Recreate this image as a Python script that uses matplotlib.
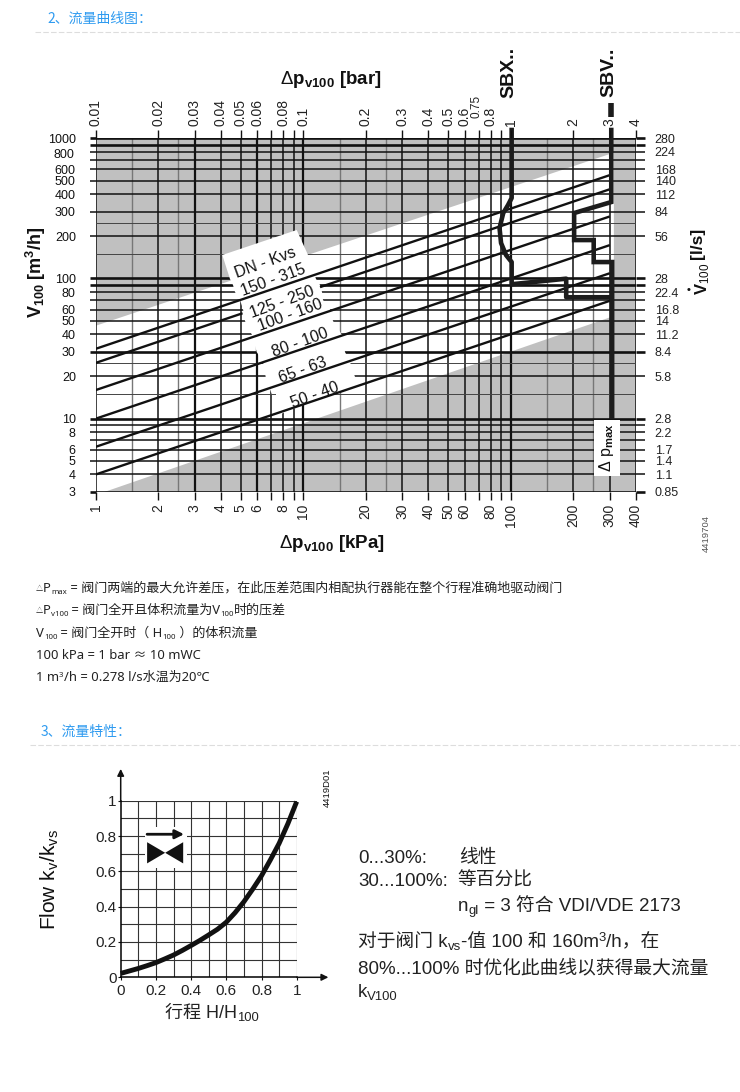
import matplotlib
matplotlib.use('Agg')
import matplotlib.pyplot as plt
import matplotlib.transforms as mtransforms
from matplotlib.patches import Polygon
from matplotlib.ticker import NullLocator, FixedLocator, FixedFormatter

W, H = 740, 1092
plt.rcParams['font.family'] = ['Liberation Sans', 'Noto Sans CJK SC']
plt.rcParams['mathtext.fontset'] = 'custom'
plt.rcParams['mathtext.rm'] = 'Liberation Sans'
plt.rcParams['mathtext.bf'] = 'Liberation Sans:bold'
plt.rcParams['mathtext.it'] = 'Liberation Sans:italic'

# ---- data: flow curve chart ----
kpa_lines = [1, 2, 3, 4, 5, 6, 7, 8, 9, 10, 20, 30, 40, 50, 60, 70, 80, 90, 100, 200, 300, 400]
kpa_lines_gray = [1.5, 2.5, 15, 25, 150, 250]
kpa_heavy = [3, 6, 10, 100]
kpa_labels = ['1', '2', '3', '4', '5', '6', '', '8', '', '10', '20', '30', '40', '50', '60', '',
              '80', '', '100', '200', '300', '400']
bar_ticks = kpa_lines
bar_labels = ['0.01', '0.02', '0.03', '0.04', '0.05', '0.06', '', '0.08', '', '0.1', '0.2', '0.3',
              '0.4', '0.5', '0.6', '', '0.8', '', '1', '2', '3', '4']
v_lines = [1000, 900, 800, 700, 600, 500, 400, 300, 200, 100, 90, 80, 70, 60, 50, 40, 30, 20,
           10, 9, 8, 7, 6, 5, 4, 3]
v_lines_thin = [250, 150, 25, 15]
v_heavy = [1000, 900, 100, 90, 30, 10, 3]
v_labels = ['1000', '', '', '', '600', '500', '400', '300', '200', '100', '', '80', '', '60',
            '50', '40', '30', '20', '10', '', '8', '', '6', '5', '4', '3']
ls_ticks = [1000, 800, 600, 500, 400, 300, 200, 100, 80, 60, 50, 40, 30, 20, 10, 8, 6, 5, 4, 3]
ls_labels = ['280', '224', '168', '140', '112', '84', '56', '28', '22.4', '16.8', '14', '11.2',
             '8.4', '5.8', '2.8', '2.2', '1.7', '1.4', '1.1', '0.85']
white_p = [1, 1, 314, 314, 1.1]
white_v = [3, 46, 790, 54, 3]
kvs_p = [[1, 300], [1, 5.1], [12.05, 300], [1, 300], [1, 300], [1, 300], [1, 300]]
kvs_v = [[31.5, 546], [25, 56.5], [86.8, 433], [16, 277], [10, 173], [6.3, 109], [4, 69.3]]
dn_labels = ['DN - Kvs', '150 - 315', '125 - 250', '100 - 160', '80 - 100', '65 - 63', '50 - 40']
sbx_p = [101, 101, 97, 92, 88.3, 89.8, 94.9, 101, 101, 185, 185, 305]
sbx_v = [1146, 375, 334, 293, 229, 179, 147, 131, 91, 99.7, 73.5, 73.5]
sbv_p = [305, 305, 202, 202, 251, 251, 308, 308]
sbv_v = [1146, 351, 293, 188, 188, 131, 131, 10.3]
sbv_dash_p = [305, 305]
sbv_dash_v = [1786, 1419]

# ---- data: flow characteristic chart ----
travel = [0, 0.05, 0.1, 0.15, 0.2, 0.25, 0.3, 0.35, 0.4, 0.45, 0.5, 0.55, 0.6, 0.65, 0.7, 0.75,
          0.8, 0.85, 0.9, 0.95, 1.0]
flow = [0.022, 0.036, 0.05, 0.066, 0.083, 0.104, 0.126, 0.152, 0.18, 0.209, 0.24, 0.272, 0.312,
        0.366, 0.428, 0.499, 0.575, 0.664, 0.758, 0.87, 0.995]
char_ticks = [0, 0.2, 0.4, 0.6, 0.8, 1]
char_labels = ['0', '0.2', '0.4', '0.6', '0.8', '1']
char_grid = [0.1, 0.2, 0.3, 0.4, 0.5, 0.6, 0.7, 0.8, 0.9, 1.0]

fig = plt.figure(figsize=(W / 100, H / 100), dpi=100, facecolor='white')
px = mtransforms.Affine2D().scale(1 / W, -1 / H).translate(0, 1) + fig.transFigure
BLACK = '#111111'


def ax_px(x0, y0, x1, y1):
    return fig.add_axes([x0 / W, 1 - y1 / H, (x1 - x0) / W, (y1 - y0) / H])


def T(x, y, s, **kw):
    kw.setdefault('color', BLACK)
    kw.setdefault('va', 'center')
    return fig.text(x, y, s, transform=px, **kw)


renderer = fig.canvas.get_renderer()


def advance(s, **kw):
    a = fig.text(0, 0, '|' + s + '|', **kw)
    b = fig.text(0, 0, '||', **kw)
    w = a.get_window_extent(renderer).width - b.get_window_extent(renderer).width
    a.remove()
    b.remove()
    return w


def rich(x, y, parts, size, color='#222222', family=None):
    fam = family or ['Noto Sans', 'Noto Sans CJK SC']
    for p in parts:
        s, k, dy = p if isinstance(p, tuple) else (p, 1.0, 0)
        T(x, y + dy, s, fontsize=size * k, color=color, family=fam, va='baseline')
        x += advance(s, fontsize=size * k, family=fam)


# page headers
BLUE = '#2f9bf0'
T(47, 19, '2、流量曲线图：', fontsize=10, color=BLUE, family=['Noto Sans CJK SC'])
T(41, 732, '3、流量特性：', fontsize=10, color=BLUE, family=['Noto Sans CJK SC'])
for xs, y in ((35, 32), (30, 745)):
    fig.add_artist(plt.Line2D([xs, W], [y, y], transform=px, color='#dddddd', lw=0.8, ls=(0, (5, 2))))

# ---- main chart ----
ax = ax_px(95.7, 138.3, 635.7, 492)
ax.set_xscale('log')
ax.set_yscale('log')
ax.set_xlim(1, 400)
ax.set_ylim(3, 1000)
ax.set_facecolor('#c0c0c0')
for s in ax.spines.values():
    s.set_visible(False)
ax.fill(white_p, white_v, color='white', lw=0, zorder=1)

for k in kpa_lines_gray:
    ax.axvline(k, color='#777777', lw=1.0, zorder=2)
for k in kpa_lines:
    ax.axvline(k, color=BLACK, lw=1.6 if k in kpa_heavy else 1.1, zorder=2)
for v in v_lines_thin:
    ax.axhline(v, color='#444444', lw=0.7, zorder=2)
for v in v_lines:
    ax.axhline(v, color=BLACK, lw=1.9 if v in v_heavy else 1.1, zorder=2)

# white label field that interrupts the grid
label_field = [(222.3, 255), (296.7, 230), (307.7, 254.3), (316, 279), (320, 285), (322, 292), (323, 300),
               (330, 309), (333, 321), (342, 335), (345, 352), (350, 362), (355, 377), (358, 386),
               (303, 405), (283, 413), (276, 417), (276, 394), (271.7, 394), (265.7, 377), (263, 362),
               (256.7, 352), (252, 335), (245, 321), (243, 309), (240, 300), (235, 292), (233, 285),
               (230, 279)]
ax.add_patch(Polygon(label_field, closed=True, transform=px, fc='white', ec='none', zorder=2.4, clip_on=False))

for ps, vs in zip(kvs_p, kvs_v):
    ax.plot(ps, vs, color=BLACK, lw=1.7, zorder=2.5, solid_capstyle='butt')

ax.xaxis.set_major_locator(FixedLocator(kpa_lines))
ax.xaxis.set_major_formatter(FixedFormatter(kpa_labels))
ax.xaxis.set_minor_locator(NullLocator())
ax.yaxis.set_major_locator(FixedLocator(v_lines))
ax.yaxis.set_major_formatter(FixedFormatter(v_labels))
ax.yaxis.set_minor_locator(NullLocator())
ax.tick_params(axis='x', direction='out', length=5.5, width=1.0, labelsize=10, pad=3, labelrotation=90, color=BLACK, labelcolor='#222222')
ax.tick_params(axis='y', direction='out', length=4.3, width=1.0, labelsize=9, pad=10, color=BLACK, labelcolor='#111111')
for t, v in zip(ax.yaxis.get_major_ticks(), v_lines):
    t.tick1line.set_markeredgewidth(1.9 if v in v_heavy else 1.1)
T(74, 155, '800', fontsize=9, ha='right')

axt = ax.twiny()
axt.set_xscale('log')
axt.set_xlim(1, 400)
axt.xaxis.set_major_locator(FixedLocator(bar_ticks))
axt.xaxis.set_major_formatter(FixedFormatter(bar_labels))
axt.xaxis.set_minor_locator(NullLocator())
axt.tick_params(axis='x', direction='out', length=5.5, width=1.0, labelsize=10, pad=3, labelrotation=90, color=BLACK, labelcolor='#222222')
for s in axt.spines.values():
    s.set_visible(False)
axr = ax.twinx()
axr.set_yscale('log')
axr.set_ylim(3, 1000)
axr.yaxis.set_major_locator(FixedLocator(v_lines))
axr.yaxis.set_minor_locator(NullLocator())
axr.yaxis.set_major_formatter(FixedFormatter([ls_labels[ls_ticks.index(v)] if v in ls_ticks else '' for v in v_lines]))
axr.tick_params(axis='y', direction='out', length=6.7, width=1.0, labelsize=9, pad=7, color=BLACK, labelcolor='#222222')
for s in axr.spines.values():
    s.set_visible(False)
for t, v in zip(axr.yaxis.get_major_ticks(), v_lines):
    t.tick2line.set_markeredgewidth(1.9 if v in v_heavy else 1.1)
# the "0.75" label sits raised above its neighbours
T(477, 118.5, '0.75', fontsize=8.5, rotation=90, ha='center', va='bottom', color='#222222')

label_xy = [(265, 263), (273, 280), (282, 302), (290, 315), (300, 343), (303, 370), (315, 395)]
for s, (x, y) in zip(dn_labels, label_xy):
    T(x, y, s, fontsize=11.5, rotation=20, ha='center', rotation_mode='anchor', zorder=5)

ax.plot(sbx_p, sbx_v, color='#1c1c1c', lw=3.3, clip_on=False, zorder=6, solid_joinstyle='round')
ax.plot(sbv_p, sbv_v, color='#1c1c1c', lw=3.3, clip_on=False, zorder=6, solid_joinstyle='miter')
ax.plot(sbv_dash_p, sbv_dash_v, color='#1c1c1c', lw=4, clip_on=False, zorder=6, solid_capstyle='butt')

T(607, 448, r'$\Delta$ p$_{\mathbf{max}}$', fontsize=11.5, rotation=90, ha='center', zorder=7,
  bbox=dict(fc='white', ec='none', pad=2.5))

T(331, 79, r'$\Delta$p$_{\mathbf{v100}}$ [bar]', fontsize=13.5, fontweight='bold', ha='center')
T(332, 543, r'$\Delta$p$_{\mathbf{v100}}$ [kPa]', fontsize=13.5, fontweight='bold', ha='center')
T(36, 272, r'V$_{\mathbf{100}}$ [m$^{\mathbf{3}}$/h]', fontsize=13, fontweight='bold', rotation=90, ha='center')
T(697, 243, '[l/s]', fontsize=12.5, fontweight='bold', rotation=90, ha='center')
T(703, 279, r'V$_{100}$', fontsize=12, fontweight='bold', rotation=90, ha='center')
T(689, 290, '•', fontsize=8, fontweight='bold', ha='center')
T(509, 72, 'SBX..', fontsize=14, fontweight='bold', rotation=90, ha='center')
T(609, 72, 'SBV..', fontsize=14, fontweight='bold', rotation=90, ha='center')
T(706, 534, '4419704', fontsize=6.8, rotation=90, ha='center', color='#555555')

# notes
SZ = 9.4
rich(36, 592, [('△', 0.55, -1), 'P', ('max', 0.6, 2), ' = 阀门两端的最大允许差压，在此压差范围内相配执行器能在整个行程准确地驱动阀门'], SZ)
rich(36, 614, [('△', 0.55, -1), 'P', ('v100', 0.6, 2), ' = 阀门全开且体积流量为V', ('100', 0.6, 2), '时的压差'], SZ)
rich(36, 637, ['V', ('100', 0.6, 2), ' = 阀门全开时（ H', ('100', 0.6, 2), ' ）的体积流量'], SZ)
rich(36, 659, ['100 kPa = 1 bar ≈ 10 mWC'], SZ)
rich(36, 681, ['1 m', ('3', 0.6, -4), '/h = 0.278 l/s水温为20℃'], SZ)

# ---- flow characteristic chart ----
ax2 = ax_px(120.7, 800.7, 296.7, 977.3)
ax2.set_xlim(0, 1)
ax2.set_ylim(0, 1)
for s in ('top', 'right'):
    ax2.spines[s].set_visible(False)
ax2.spines['left'].set_linewidth(1.1)
ax2.spines['bottom'].set_linewidth(1.1)
for g in char_grid:
    ax2.axvline(g, color='#333333', lw=0.8, zorder=1)
    ax2.axhline(g, color='#333333', lw=0.8, zorder=1)
ax2.set_xticks(char_ticks, char_labels)
ax2.set_yticks(char_ticks, char_labels)
ax2.tick_params(axis='both', length=2.5, width=0.8, labelsize=11, pad=2, color=BLACK, labelcolor='#222222')
ax2.tick_params(axis='y', pad=0.5)
ax2.plot(travel, flow, color=BLACK, lw=3.5, zorder=3, clip_on=False, solid_capstyle='butt')
ax2.annotate('', xy=(0, 1.18), xytext=(0, 1), xycoords='axes fraction', textcoords='axes fraction',
             arrowprops=dict(arrowstyle='-|>', color=BLACK, lw=1.1, mutation_scale=10, shrinkA=0, shrinkB=0))
ax2.annotate('', xy=(1.18, 0), xytext=(1, 0), xycoords='axes fraction', textcoords='axes fraction',
             arrowprops=dict(arrowstyle='-|>', color=BLACK, lw=1.1, mutation_scale=10, shrinkA=0, shrinkB=0))
# valve symbol
ax2.fill([0.14, 0.375, 0.375, 0.14], [0.62, 0.62, 0.85, 0.85], color='white', lw=0, zorder=2)
ax2.fill([0.15, 0.355, 0.355, 0.15], [0.645, 0.765, 0.645, 0.765], color=BLACK, lw=0, zorder=3)
ax2.annotate('', xy=(0.36, 0.81), xytext=(0.15, 0.81), xycoords='data', textcoords='data',
             arrowprops=dict(arrowstyle='-|>', color=BLACK, lw=2, mutation_scale=13, shrinkA=0, shrinkB=0), zorder=3)

T(50, 880, r'Flow k$_{\mathrm{v}}$/k$_{\mathrm{vs}}$', fontsize=15, rotation=90, ha='center')
T(327, 788, '4419D01', fontsize=6.8, rotation=90, ha='center')
rich(165, 1018, ['行程 H/H', ('100', 0.72, 3)], 13, family=['Liberation Sans', 'Noto Sans CJK SC'])

F2 = ['Liberation Sans', 'Noto Sans CJK SC']
S2 = 13.5
rich(358, 863, ['0...30%:'], S2, family=F2)
rich(459, 863, ['线性'], S2, family=F2)
rich(358, 886, ['30...100%:'], S2, family=F2)
rich(457, 886, ['等百分比'], S2, family=F2)
rich(458, 911, ['n', ('gl', 0.7, 3), ' = 3 符合 VDI/VDE 2173'], S2, family=F2)
rich(358, 947, ['对于阀门 k', ('vs', 0.7, 3), '-值 100 和 160m', ('3', 0.7, -6), '/h，在'], S2, family=F2)
rich(358, 973, ['80%...100% 时优化此曲线以获得最大流量'], S2, family=F2)
rich(358, 997, ['k', ('V100', 0.7, 3)], S2, family=F2)

fig.savefig('out.png', dpi=100, facecolor='white')
